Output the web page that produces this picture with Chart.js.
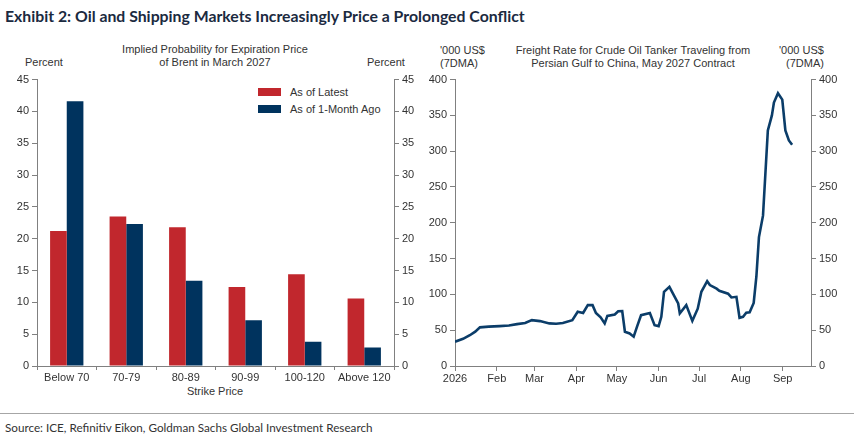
<!DOCTYPE html>
<html lang="en">
<head>
<meta charset="UTF-8">
<title>Exhibit 2</title>
<script src="https://cdn.jsdelivr.net/npm/chart.js"></script>
<style>
    body {
        margin: 0;
        width: 854px;
        height: 438px;
        background: #fff;
        position: relative;
        overflow: hidden;
        font-family: "Liberation Sans", Arial, sans-serif;
        color: #333;
    }
    .abs { position: absolute; white-space: nowrap; font-size: 11px; line-height: 13px; }
    .ctr { text-align: center; transform: translateX(-50%); }
    #title {
        position: absolute; left: 5px; top: 6px;
        font-family: Lato, "Open Sans", sans-serif; font-weight: bold;
        font-size: 15.8px; color: #1b2a3f; white-space: nowrap;
    }
    #rule { position: absolute; left: 0; top: 413px; width: 854px; height: 1px; background: #a6a6a6; }
    #source {
        position: absolute; left: 5px; top: 420px;
        font-family: Lato, "Open Sans", sans-serif; font-size: 11.7px; color: #333; white-space: nowrap;
    }
    canvas { position: absolute; }
    .key { position: absolute; width: 23px; height: 8px; }
</style>
</head>
<body>
<div id="title">Exhibit 2: Oil and Shipping Markets Increasingly Price a Prolonged Conflict</div>

<div class="abs ctr" style="left:215px; top:43px;">Implied Probability for Expiration Price<br>of Brent in March 2027</div>
<div class="abs" style="left:25px; top:56px;">Percent</div>
<div class="abs" style="left:367px; top:56px;">Percent</div>
<div class="abs ctr" style="left:215px; top:385px;">Strike Price</div>

<div class="key" style="left:258px; top:88px; background:#c1272d;"></div>
<div class="abs" style="left:290px; top:86px;">As of Latest</div>
<div class="key" style="left:258px; top:105px; background:#00335e;"></div>
<div class="abs" style="left:290px; top:103px;">As of 1-Month Ago</div>

<div class="abs ctr" style="left:633px; top:44px;">Freight Rate for Crude Oil Tanker Traveling from<br>Persian Gulf to China, May 2027 Contract</div>
<div class="abs" style="left:440px; top:44px;">'000 US$<br>(7DMA)</div>
<div class="abs" style="left:779px; top:44px; text-align:right;">'000 US$<br>(7DMA)</div>

<canvas id="barChart" width="427" height="330" style="left:0; top:70px;"></canvas>
<canvas id="lineChart" width="427" height="330" style="left:427px; top:70px;"></canvas>

<div id="rule"></div>
<div id="source">Source: ICE, Refinitiv Eikon, Goldman Sachs Global Investment Research</div>

<script>
    // bar chart data
    const strikes = ['Below 70', '70-79', '80-89', '90-99', '100-120', 'Above 120'];
    const latest = [21.2, 23.5, 21.8, 12.4, 14.4, 10.6];
    const monthAgo = [41.6, 22.3, 13.4, 7.2, 3.8, 2.9];

    // line chart data, x = days since 1 Jan 2026
    const freightDays = [0, 6, 11, 15, 18.5, 25, 33, 40, 46, 52, 57, 63, 70, 75, 80, 87, 91, 95, 98.5, 102, 104.5,
        108, 111, 113, 118.5, 121, 124, 126, 129.5, 132.5, 135, 138, 144.5, 148, 151, 153, 155, 159, 165.5,
        166.7, 171.5, 176, 180, 182.7, 187, 189, 194, 196, 202.5, 205, 208.7, 211, 213.6, 216, 218.5, 221.5,
        223.5, 225.4, 228.4, 232, 235, 236.5, 239.5, 242.7, 245, 247.6, 250];
    const freightRate = [34, 38, 43, 48, 54, 55, 55.7, 56.5, 58.5, 60, 64, 62.7, 59.5, 59, 60, 64, 75.7, 74, 85, 85, 74,
        68, 59.5, 70, 72, 76.5, 76.7, 47.8, 45.5, 41, 55, 71, 74, 57, 55.7, 68.7, 103.6, 110.5, 87.3,
        73.4, 85, 63, 80, 103.6, 118.5, 113, 108, 105, 101, 95.7, 96.6, 67.3, 68.7, 74.3, 75, 88,
        125, 180, 210, 329, 350, 368, 381, 372, 329, 315, 309];
    const monthDays = [0, 31, 59, 90, 120, 151, 181, 212, 243];
    const monthLabels = ['2026', 'Feb', 'Mar', 'Apr', 'May', 'Jun', 'Jul', 'Aug', 'Sep'];

    const axisGrey = '#808080';
    const tickFont = { family: '"Liberation Sans", Arial, sans-serif', size: 11 };

    function yAxis(pos, width, max, step) {
        return {
            position: pos,
            min: 0, max: max,
            ticks: { stepSize: step, color: '#333', font: tickFont, padding: 3 },
            grid: { drawOnChartArea: false, color: axisGrey, tickLength: 5 },
            border: { color: axisGrey },
            afterFit: s => { s.width = width; }
        };
    }

    new Chart(document.getElementById('barChart'), {
        type: 'bar',
        data: {
            labels: strikes,
            datasets: [
                { label: 'As of Latest', data: latest, backgroundColor: '#c1272d', yAxisID: 'y' },
                { label: 'As of 1-Month Ago', data: monthAgo, backgroundColor: '#00335e', yAxisID: 'y' }
            ]
        },
        options: {
            responsive: false,
            animation: false,
            layout: { padding: { top: 9, left: 0, right: 0, bottom: 0 } },
            datasets: { bar: { categoryPercentage: 0.56, barPercentage: 1 } },
            plugins: { legend: { display: false }, tooltip: { enabled: false } },
            scales: {
                x: {
                    ticks: { color: '#333', font: tickFont, maxRotation: 0, autoSkip: false, padding: 1 },
                    grid: { drawOnChartArea: false, color: axisGrey, tickLength: 4 },
                    border: { color: axisGrey },
                    afterFit: s => { s.height = 34; }
                },
                y: yAxis('left', 37, 45, 5),
                y2: yAxis('right', 33, 45, 5)
            }
        }
    });

    new Chart(document.getElementById('lineChart'), {
        type: 'line',
        data: {
            datasets: [{
                label: 'Freight rate',
                data: freightDays.map((d, i) => ({ x: d, y: freightRate[i] })),
                borderColor: '#0b3d69',
                borderWidth: 2.6,
                pointRadius: 0,
                tension: 0,
                yAxisID: 'y'
            }]
        },
        options: {
            responsive: false,
            animation: false,
            layout: { padding: { top: 9, left: 0, right: 0, bottom: 0 } },
            plugins: { legend: { display: false }, tooltip: { enabled: false } },
            scales: {
                x: {
                    type: 'linear',
                    min: 0, max: 264,
                    afterBuildTicks: s => { s.ticks = monthDays.map(v => ({ value: v })); },
                    ticks: {
                        color: '#333', font: tickFont, maxRotation: 0, autoSkip: false, padding: 1,
                        callback: v => monthLabels[monthDays.indexOf(v)]
                    },
                    grid: { drawOnChartArea: false, color: axisGrey, tickLength: 5 },
                    border: { color: axisGrey },
                    afterFit: s => { s.height = 34; }
                },
                y: yAxis('left', 28, 400, 50),
                y2: yAxis('right', 43, 400, 50)
            }
        }
    });
</script>
</body>
</html>
